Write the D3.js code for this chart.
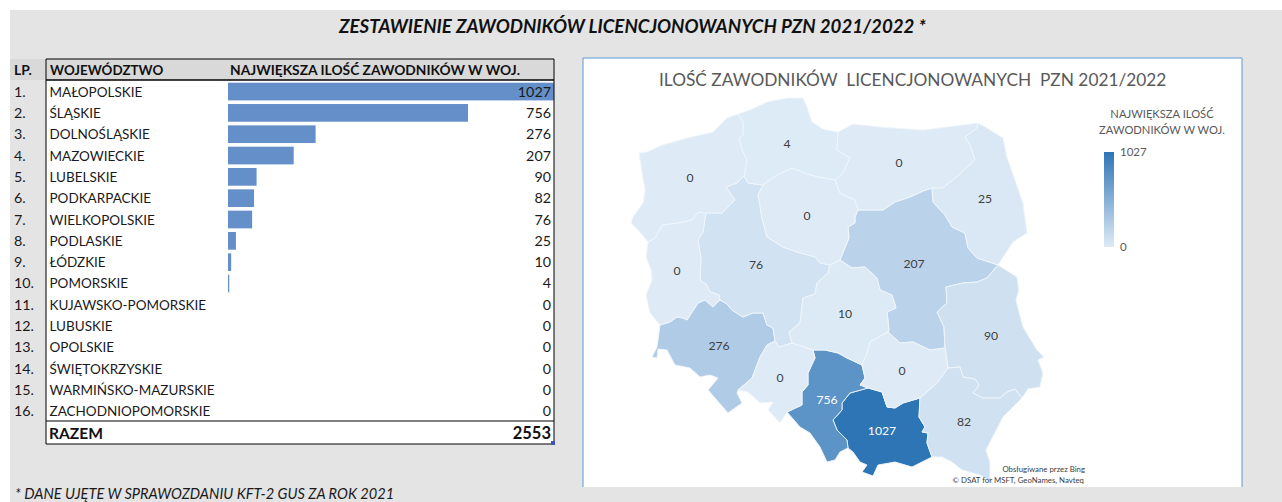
<!DOCTYPE html>
<html>
<head>
<meta charset="utf-8">
<script src="https://cdn.jsdelivr.net/npm/d3@7"></script>
<style>
	html, body { margin: 0; padding: 0; background: #fff; overflow: hidden; }
	svg { display: block; font-family: Lato, "Open Sans", sans-serif; }
</style>
</head>
<body>
<div id="chart"></div>
<script>

// Table data
const regions = ["MAŁOPOLSKIE", "ŚLĄSKIE", "DOLNOŚLĄSKIE", "MAZOWIECKIE", "LUBELSKIE", "PODKARPACKIE", "WIELKOPOLSKIE", "PODLASKIE", "ŁÓDZKIE", "POMORSKIE", "KUJAWSKO-POMORSKIE", "LUBUSKIE", "OPOLSKIE", "ŚWIĘTOKRZYSKIE", "WARMIŃSKO-MAZURSKIE", "ZACHODNIOPOMORSKIE"];
const players = [1027, 756, 276, 207, 90, 82, 76, 25, 10, 4, 0, 0, 0, 0, 0, 0];
const totalPlayers = 2553;
const legendTicks = [1027, 0];

// Map geometry (map units), shared borders between the regions
const borders = {
	zachCoast: [[639,153],[647,152],[662,145],[687,138],[713,132],[720,125],[727,118],[738,114]],
	zachPom: [[738,114],[743,122],[743,135],[739,138],[742,150],[747,160],[744,176]],
	zachWlkp: [[744,176],[737,183],[726,187],[735,200],[722,213],[706,213]],
	zachLub: [[706,213],[698,212],[692,220],[678,223],[662,225],[655,238],[648,242]],
	zachWest: [[648,242],[638,230],[631,223],[633,217],[643,203],[645,190],[642,173],[639,153]],
	lubWest: [[648,242],[646,257],[651,270],[652,280],[646,295],[650,313],[660,325]],
	lubDoln: [[660,325],[670,322],[677,317],[683,318],[687,320],[698,303],[705,300],[713,307],[720,300]],
	lubWlkp: [[720,300],[719,295],[710,292],[707,285],[700,280],[701,258],[698,240],[703,232],[706,213]],
	wlkpDoln: [[720,300],[727,304],[732,310],[743,317],[753,313],[763,313],[767,325],[773,328],[775,341]],
	wlkpOp: [[775,341],[779,347],[792,343]],
	wlkpLodz: [[792,343],[789,332],[800,323],[803,298],[815,294],[817,283],[828,273],[830,265]],
	wlkpKuj: [[830,265],[820,263],[815,257],[797,252],[783,247],[767,237],[762,218],[758,195],[763,185]],
	wlkpPom: [[744,176],[748,183],[763,185]],
	kujPom: [[763,185],[777,175],[792,168],[807,174],[818,177],[835,180]],
	kujWm: [[835,180],[840,193],[855,200],[858,210]],
	kujMaz: [[858,210],[855,217],[855,223],[848,227],[849,238],[840,260]],
	kujLodz: [[840,260],[830,265]],
	lodzMaz: [[840,260],[852,268],[865,267],[877,278],[880,290],[892,295],[896,308],[887,312],[889,330],[888,332]],
	lodzSwiet: [[888,332],[870,342],[867,353],[862,365]],
	lodzSl: [[862,365],[847,358],[838,353],[825,350],[813,350]],
	lodzOp: [[813,350],[792,343]],
	mazSwiet: [[888,332],[900,343],[913,342],[930,350],[945,348]],
	mazLubel: [[945,348],[944,327],[937,312],[947,303],[946,287],[963,283],[977,282],[987,278],[998,265]],
	mazPodl: [[998,265],[977,258],[968,248],[965,233],[952,227],[945,215],[933,202],[932,188]],
	mazWm: [[932,188],[923,191],[910,197],[895,202],[883,210],[858,210]],
	wmPodl: [[932,188],[942,188],[953,180],[975,160],[970,145],[965,137],[977,128],[978,123]],
	wmCoast: [[838,132],[853,124],[880,127],[923,130],[978,123]],
	pomWm: [[838,132],[837,150],[850,158],[843,173],[835,180]],
	pomCoast: [[738,114],[750,110],[767,102],[787,98],[803,98],[807,107],[812,122],[823,129],[838,132]],
	podlEast: [[978,123],[987,128],[1003,138],[1007,157],[1023,203],[1027,233],[1013,242],[998,265]],
	lubelEast: [[998,265],[1017,277],[1019,290],[1016,300],[1023,327],[1037,350],[1044,357],[1038,360],[1043,373],[1040,387],[1028,389],[1022,398]],
	lubelPodk: [[1022,398],[1015,389],[1007,392],[1000,398],[983,398],[973,393],[979,385],[975,379],[963,377],[960,367],[948,368]],
	lubelSwiet: [[948,368],[945,348]],
	swietPodk: [[948,368],[937,383],[920,398]],
	swietMal: [[920,398],[903,403],[895,408],[887,407],[882,392],[868,388]],
	swietSl: [[868,388],[860,385],[865,378],[862,365]],
	slMal: [[868,388],[850,393],[842,403],[842,410],[833,420],[837,430],[847,440],[848,448]],
	slSouth: [[848,448],[840,452],[835,460],[827,462],[820,447],[810,433],[800,427],[787,412]],
	slOp: [[813,350],[815,358],[808,373],[808,385],[802,392],[802,405],[787,412]],
	opSouth: [[787,412],[780,423],[768,410],[773,402],[760,403],[748,392],[738,390]],
	opDoln: [[738,390],[752,378],[760,357],[767,345],[775,341]],
	dolnSouth: [[738,390],[737,393],[742,403],[728,413],[708,390],[718,378],[710,375],[700,377],[690,368],[675,365],[667,350],[658,349],[657,358],[652,357],[657,347],[660,325]],
	malSouth: [[848,448],[853,452],[860,462],[867,465],[862,472],[873,476],[878,465],[895,462],[912,467],[932,457]],
	malPodk: [[932,457],[927,443],[928,433],[922,432],[925,427],[919,417],[920,398]],
	podkSouth: [[932,457],[942,457],[952,462],[962,470],[980,475],[993,484],[990,477],[990,462],[986,450],[1003,417],[1022,398]]
};

// Region outline as a chain of borders, "-" means walk the border backwards
const regionRings = {
	"ZACHODNIOPOMORSKIE": ["zachCoast", "zachPom", "zachWlkp", "zachLub", "zachWest"],
	"POMORSKIE": ["pomCoast", "pomWm", "-kujPom", "-wlkpPom", "-zachPom"],
	"WARMIŃSKO-MAZURSKIE": ["wmCoast", "-wmPodl", "mazWm", "-kujWm", "-pomWm"],
	"PODLASKIE": ["podlEast", "mazPodl", "wmPodl"],
	"KUJAWSKO-POMORSKIE": ["kujPom", "kujWm", "kujMaz", "kujLodz", "wlkpKuj"],
	"LUBUSKIE": ["zachLub", "lubWest", "lubDoln", "lubWlkp"],
	"WIELKOPOLSKIE": ["wlkpPom", "-wlkpKuj", "-wlkpLodz", "-wlkpOp", "-wlkpDoln", "lubWlkp", "-zachWlkp"],
	"MAZOWIECKIE": ["-mazWm", "-mazPodl", "-mazLubel", "-mazSwiet", "-lodzMaz", "-kujMaz"],
	"ŁÓDZKIE": ["-kujLodz", "lodzMaz", "lodzSwiet", "lodzSl", "lodzOp", "wlkpLodz"],
	"LUBELSKIE": ["mazLubel", "lubelEast", "lubelPodk", "lubelSwiet"],
	"DOLNOŚLĄSKIE": ["wlkpDoln", "-opDoln", "dolnSouth", "lubDoln"],
	"OPOLSKIE": ["wlkpOp", "-lodzOp", "slOp", "opSouth", "opDoln"],
	"ŚLĄSKIE": ["-lodzSl", "-swietSl", "slMal", "slSouth", "-slOp"],
	"ŚWIĘTOKRZYSKIE": ["mazSwiet", "-lubelSwiet", "swietPodk", "swietMal", "swietSl", "-lodzSwiet"],
	"MAŁOPOLSKIE": ["-swietMal", "-malPodk", "-malSouth", "-slMal"],
	"PODKARPACKIE": ["-swietPodk", "-lubelPodk", "-podkSouth", "malPodk"]
};

// Where each value label sits on the map (map units)
const labelPoints = {
	"ZACHODNIOPOMORSKIE": [690,178], "POMORSKIE": [787,144], "WARMIŃSKO-MAZURSKIE": [899,163], "PODLASKIE": [985,199],
	"KUJAWSKO-POMORSKIE": [807,216], "LUBUSKIE": [677,271], "WIELKOPOLSKIE": [756,265], "MAZOWIECKIE": [914,264],
	"ŁÓDZKIE": [845,314], "LUBELSKIE": [991,336], "DOLNOŚLĄSKIE": [719,346], "OPOLSKIE": [780,378],
	"ŚLĄSKIE": [827,400], "ŚWIĘTOKRZYSKIE": [902,371], "MAŁOPOLSKIE": [882,431], "PODKARPACKIE": [964,422]
};

const width = 1282, height = 502;
const textDark = "#1a1a1a", textGrey = "#595959";

const svg = d3.select("#chart").append("svg")
	.attr("width", width)
	.attr("height", height);

// Sheet background
svg.append("rect").attr("x", 10).attr("y", 10).attr("width", width - 10).attr("height", height - 10).attr("fill", "#e4e4e4");

svg.append("text")
	.attr("x", 632.5).attr("y", 33)
	.attr("text-anchor", "middle")
	.attr("font-size", 18.7).attr("font-weight", 700).attr("font-style", "italic")
	.attr("fill", "#111")
	.text("ZESTAWIENIE ZAWODNIKÓW LICENCJONOWANYCH PZN 2021/2022 *");

svg.append("text")
	.attr("x", 15).attr("y", 498.5)
	.attr("font-size", 14.6).attr("font-style", "italic")
	.attr("fill", textDark)
	.text("* DANE UJĘTE W SPRAWOZDANIU KFT-2 GUS ZA ROK 2021");

drawTable();
drawMap();


/*
 * Table with the in-cell bars
 */
function drawTable() {
	const left = 46, right = 554, top = 59, headerBottom = 80, barLeft = 228;

	const y = d3.scaleBand()
		.domain(d3.range(regions.length))
		.range([81, 422])
		.paddingInner(0.17)
		.paddingOuter(0.08);

	const x = d3.scaleLinear()
		.domain([0, d3.max(players)])
		.range([0, right - barLeft]);

	const table = svg.append("g").attr("class", "table");

	table.append("rect").attr("x", 10).attr("y", top).attr("width", right - 10).attr("height", headerBottom - top).attr("fill", "#d9d9d9");
	table.append("rect").attr("x", left).attr("y", headerBottom).attr("width", right - left).attr("height", 444 - headerBottom).attr("fill", "#fff");

	table.selectAll(".bar")
		.data(players)
		.enter().append("rect")
		.attr("class", "bar")
		.attr("x", barLeft)
		.attr("y", (d, i) => y(i))
		.attr("width", d => x(d))
		.attr("height", y.bandwidth())
		.attr("fill", "#648fc8");

	const rowY = i => y(i) + y.bandwidth() / 2 + 5;

	const cell = (cls, xPos, anchor, size, accessor) => table.selectAll("." + cls)
		.data(regions)
		.enter().append("text")
		.attr("class", cls)
		.attr("x", xPos)
		.attr("y", (d, i) => rowY(i))
		.attr("text-anchor", anchor)
		.attr("font-size", size)
		.attr("fill", textDark)
		.text(accessor);

	cell("lp", 14, "start", 14.3, (d, i) => (i + 1) + ".");
	cell("region", 49.5, "start", 13.5, d => d);
	cell("value", 551, "end", 14.3, (d, i) => players[i]);

	// Header
	[["LP.", 14, 13.8], ["WOJEWÓDZTWO", 50, 13.4], ["NAJWIĘKSZA ILOŚĆ ZAWODNIKÓW W WOJ.", 230, 13.8]].forEach(h => {
		table.append("text")
			.attr("x", h[1]).attr("y", 75)
			.attr("font-size", h[2]).attr("font-weight", 700)
			.attr("fill", "#111")
			.text(h[0]);
	});

	// Total row
	table.append("text").attr("x", 49).attr("y", 439)
		.attr("font-size", 15.6).attr("font-weight", 700).attr("fill", "#111").text("RAZEM");
	table.append("text").attr("x", 551).attr("y", 439).attr("text-anchor", "end")
		.attr("font-size", 16.5).attr("font-weight", 700).attr("fill", "#111").text(totalPlayers);

	// Frame lines
	const line = (x1, y1, x2, y2, w) => table.append("line")
		.attr("x1", x1).attr("y1", y1).attr("x2", x2).attr("y2", y2)
		.attr("stroke", "#000").attr("stroke-width", w);

	line(left, top, right, top, 1);
	line(left, headerBottom, right, headerBottom, 1.5);
	line(left, 421, right, 421, 1);
	line(left, 444, right, 444, 1);
	line(left, top, left, 444, 1);
	line(right, top, right, 444, 1);

	// Excel fill handle in the last cell
	table.append("rect").attr("x", 551).attr("y", 441).attr("width", 4).attr("height", 4).attr("fill", "#3f55b5");
}


/*
 * Choropleth with its legend
 */
function drawMap() {
	const panel = {x: 583, y: 58, width: 659, height: 429};

	const g = svg.append("g").attr("class", "map-panel");

	g.append("rect")
		.attr("x", panel.x).attr("y", panel.y)
		.attr("width", panel.width).attr("height", panel.height)
		.attr("fill", "#fff");

	// Only the three upper sides carry the blue border
	g.append("path")
		.attr("d", d3.line()([[panel.x, panel.y + panel.height], [panel.x, panel.y], [panel.x + panel.width, panel.y], [panel.x + panel.width, panel.y + panel.height]]))
		.attr("fill", "none")
		.attr("stroke", "#5b9bd5");

	g.append("text")
		.attr("x", 659).attr("y", 86)
		.attr("font-size", 17.3)
		.attr("fill", textGrey)
		.style("white-space", "pre")
		.text("ILOŚĆ ZAWODNIKÓW  LICENCJONOWANYCH  PZN 2021/2022");

	const color = d3.scaleLinear()
		.domain([0, d3.max(players)])
		.range(["#deebf7", "#2e75b6"]);

	const geoPath = d3.geoPath(d3.geoIdentity());

	const ring = name => {
		const coords = [];
		regionRings[name].forEach(b => {
			const pts = b[0] === "-" ? borders[b.slice(1)].slice().reverse() : borders[b];
			coords.push(...pts);
		});
		coords.push(coords[0]);
		return {type: "Polygon", coordinates: [coords]};
	};

	g.selectAll(".region")
		.data(regions)
		.enter().append("path")
		.attr("class", "region")
		.attr("d", d => geoPath(ring(d)))
		.attr("fill", (d, i) => color(players[i]))
		.attr("stroke", "#f1f6fb")
		.attr("stroke-width", 0.9)
		.attr("stroke-linejoin", "round");

	g.selectAll(".map-label")
		.data(regions)
		.enter().append("text")
		.attr("class", "map-label")
		.attr("x", d => labelPoints[d][0])
		.attr("y", d => labelPoints[d][1] + 4)
		.attr("text-anchor", "middle")
		.attr("font-size", 12.2)
		.attr("fill", (d, i) => players[i] > 500 ? "#fff" : "#404040")
		.text((d, i) => players[i]);

	// Legend
	["NAJWIĘKSZA ILOŚĆ", "ZAWODNIKÓW W WOJ."].forEach((t, i) => {
		g.append("text")
			.attr("x", 1162).attr("y", 118 + i * 16)
			.attr("text-anchor", "middle")
			.attr("font-size", 11.2)
			.attr("fill", textGrey)
			.text(t);
	});

	const legendY = d3.scaleLinear()
		.domain([0, d3.max(legendTicks)])
		.range([247, 152]);

	const grad = svg.append("defs").append("linearGradient")
		.attr("id", "legend-grad")
		.attr("x1", 0).attr("y1", 1).attr("x2", 0).attr("y2", 0);

	grad.selectAll("stop")
		.data(color.domain())
		.enter().append("stop")
		.attr("offset", d => d / d3.max(players))
		.attr("stop-color", d => color(d));

	g.append("rect")
		.attr("x", 1104).attr("y", legendY(d3.max(legendTicks)))
		.attr("width", 10).attr("height", legendY(0) - legendY(d3.max(legendTicks)))
		.attr("fill", "url(#legend-grad)");

	g.selectAll(".legend-tick")
		.data(legendTicks)
		.enter().append("text")
		.attr("class", "legend-tick")
		.attr("x", 1120)
		.attr("y", d => legendY(d) + 4)
		.attr("font-size", 11.5)
		.attr("fill", textGrey)
		.text(d => d);

	// Attribution
	g.append("text").attr("x", 1085).attr("y", 472).attr("text-anchor", "end")
		.attr("font-size", 7.8).attr("fill", "#404040").text("Obsługiwane przez Bing");
	g.append("text").attr("x", 1084).attr("y", 483).attr("text-anchor", "end")
		.attr("font-size", 7.8).attr("fill", "#404040").text("© DSAT for MSFT, GeoNames, Navteq");
}

</script>
</body>
</html>
